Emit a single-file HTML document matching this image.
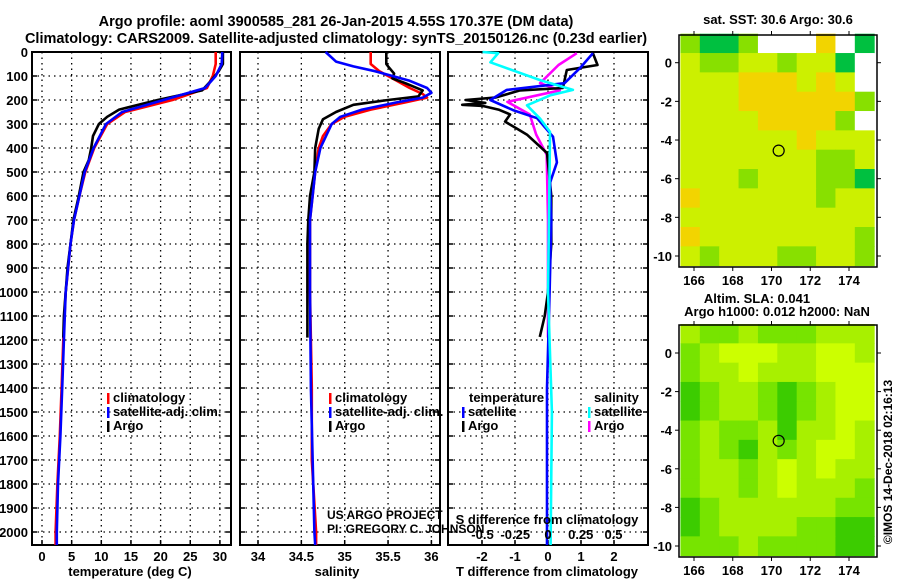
<!DOCTYPE html>
<html><head><meta charset="utf-8"><style>
html,body{margin:0;padding:0;background:#fff;}
svg{display:block;font-family:"Liberation Sans",sans-serif;}
.t{font-weight:bold;font-size:13px;fill:#000;}
.ttl{font-weight:bold;font-size:14.5px;fill:#000;}
</style></head><body>
<svg id="chart" width="900" height="580" viewBox="0 0 900 580" xmlns="http://www.w3.org/2000/svg">
<text class="ttl" x="336" y="26" text-anchor="middle">Argo profile: aoml 3900585_281 26-Jan-2015 4.55S 170.37E (DM data)</text>
<text class="ttl" x="336" y="43" text-anchor="middle">Climatology: CARS2009. Satellite-adjusted climatology: synTS_20150126.nc (0.23d earlier)</text>
<g id="plots"></g>
</svg>
<script>
// ---- data ----
const tClimP=[0,50,100,150,200,250,300,400,500,600,700,800,1000,1200,1400,1600,1800,2000,2054];
const tClim=[29.3,29.3,28.8,27.8,22,14,11,8.8,7.3,6.3,5.4,4.8,4.0,3.6,3.3,3.0,2.6,2.3,2.3];
const tSatP=[0,50,100,150,200,250,300,400,500,600,700,800,1000,1200,1400,1600,1800,2000,2054];
const tSat=[30.4,30.3,29.3,27.5,20.5,13.5,10.8,8.7,7.2,6.3,5.4,4.8,4.0,3.7,3.4,3.1,2.7,2.5,2.5];
const tArgoP=[0,50,80,120,160,200,240,270,300,350,400,450,500,600,700,800,900,1000,1100,1190];
const tArgo=[30.5,30.5,29.8,28.5,27,19.5,13,11,9.6,8.6,8.3,7.9,7.0,6.2,5.3,4.8,4.3,4.0,3.7,3.6];
const sClimP=[0,50,80,120,150,175,190,210,240,270,300,350,400,500,600,700,1000,1400,1700,2000,2054];
const sClim=[35.3,35.3,35.4,35.6,35.75,35.9,35.95,35.7,35.3,35.0,34.85,34.75,34.7,34.66,34.63,34.6,34.6,34.62,34.62,34.67,34.67];
const sSatP=[0,40,60,80,100,120,150,170,190,210,240,270,300,400,500,700,1000,1400,2000,2054];
const sSat=[34.78,34.9,35.1,35.35,35.55,35.75,35.95,36.0,35.9,35.6,35.2,34.95,34.85,34.72,34.66,34.6,34.6,34.61,34.65,34.66];
const sArgoP=[0,50,60,90,110,130,160,185,200,220,250,280,320,400,500,600,700,800,900,1190];
const sArgo=[35.48,35.48,35.5,35.57,35.55,35.7,35.9,35.85,35.5,35.1,34.9,34.75,34.7,34.66,34.65,34.6,34.58,34.57,34.57,34.57];
const dTSatP=[5,67,130,158,200,242,276,353,460,545,700,1000,1400,2054];
const dTSat=[1.36,0.97,0.5,-1.25,-1.75,-1.06,-0.33,0.15,0.27,0.06,0.1,0.05,-0.03,-0.03];
const dTArgoP=[5,54,75,150,160,190,200,212,220,225,240,260,290,344,421,600,800,1000,1100,1187];
const dTArgo=[1.36,1.5,0.57,0.45,-0.85,-1.6,-2.5,-1.9,-2.6,-1.97,-1.5,-1.15,-1.3,-0.64,-0.03,0.1,0.1,0.0,-0.1,-0.25];
const dSSatP=[0,5,43,117,158,180,222,278,333,600,1000,1500,2054];
const dSSat=[-0.5,-0.38,-0.44,-0.06,0.19,0.02,-0.16,-0.06,0.015,0.01,0.0,0.03,0.02];
const dSArgoP=[5,54,130,160,208,260,344,428,700,1000,1190];
const dSArgo=[0.22,0.08,-0.06,0.09,-0.31,-0.14,-0.09,-0.01,0.0,0.0,0.0];
const presTicks=[0,100,200,300,400,500,600,700,800,900,1000,1100,1200,1300,1400,1500,1600,1700,1800,1900,2000];
const tTicks=[0,5,10,15,20,25,30];
const sTicks=[34,34.5,35,35.5,36];
const sTickLabels=["34","34.5","35","35.5","36"];
const dTTicks=[-2,-1,0,1,2];
const dSTicks=[-0.5,-0.25,0,0.25,0.5];
const dSTickLabels=["-0.5","-0.25","0","0.25","0.5"];
const lonTicks=[166,168,170,172,174];
const latTicks=[0,-2,-4,-6,-8,-10];
// map grids (rows lat 1.5 -> -10.5 step 1, cols lon 165.5 -> 175.5 step 1)
const sstGrid=[
[2,3,3,2,4,4,4,1,4,3],
[0,2,2,0,0,2,0,0,3,4],
[0,0,0,1,1,1,0,1,0,4],
[0,0,0,1,1,1,1,1,1,2],
[0,0,0,0,1,1,1,1,2,4],
[0,0,0,0,0,0,1,0,0,0],
[0,0,0,0,0,0,0,2,2,0],
[0,0,0,2,0,0,0,2,2,3],
[1,0,0,0,0,0,0,2,0,0],
[0,0,0,0,0,0,0,0,0,0],
[1,0,0,0,0,0,0,0,0,2],
[0,2,0,0,0,2,2,0,0,2]];
const slaGrid=[
[1,2,2,1,2,2,2,1,1,1],
[2,1,0,0,0,1,1,0,0,1],
[2,1,1,0,1,1,1,0,0,0],
[3,2,1,1,2,3,2,1,0,0],
[3,2,1,1,2,3,2,1,0,0],
[2,1,2,2,1,3,1,1,0,1],
[2,1,2,3,1,2,1,0,0,1],
[2,1,1,2,1,0,1,0,1,1],
[2,1,1,2,1,0,1,1,1,2],
[3,2,1,1,1,1,1,1,2,2],
[3,2,1,1,1,1,2,2,3,3],
[2,2,2,1,2,2,2,2,3,3]];
const argoLon=170.37, argoLat=-4.55;

// ---- helpers ----
const NS="http://www.w3.org/2000/svg";
const root=document.getElementById('plots');
function mk(tag,attrs,parent){const e=document.createElementNS(NS,tag);for(const k in attrs)e.setAttribute(k,attrs[k]);(parent||root).appendChild(e);return e;}
const yP=p=>52+p*0.24;
const xT=v=>42+v*5.93;
const xS=v=>258+(v-34)*86.7;
const xDT=v=>548+v*33;
const xDS=v=>548+v*131;
const PY0=52,PY1=545;

function panel(name,x0,x1,xs,ticks,xf){
  const g=mk('g',{});
  
  
  presTicks.forEach(p=>{if(p>0){const l=mk('line',{x1:x0,x2:x1,y1:yP(p),y2:yP(p),stroke:'#000','stroke-width':1.3,'stroke-dasharray':'1.5,4'},g);
    }
    mk('line',{x1:x0,x2:x0+5,y1:yP(p),y2:yP(p),stroke:'#000','stroke-width':1.5},g);
    mk('line',{x1:x1-5,x2:x1,y1:yP(p),y2:yP(p),stroke:'#000','stroke-width':1.5},g);});
  ticks.forEach(v=>{const l=mk('line',{x1:xf(v),x2:xf(v),y1:PY0,y2:PY1,stroke:'#000','stroke-width':1.3,'stroke-dasharray':'1.5,4'},g);
    
    mk('line',{x1:xf(v),x2:xf(v),y1:PY1-5,y2:PY1,stroke:'#000','stroke-width':1.5},g);});
  const r=mk('rect',{x:x0,y:PY0,width:x1-x0,height:PY1-PY0,fill:'none',stroke:'#000','stroke-width':2},g);
  
  return g;
}
function line(g,name,ps,vs,xf,color){
  const d=ps.map((p,i)=>(i?'L':'M')+xf(vs[i]).toFixed(1)+','+yP(p).toFixed(1)).join('');
  const e=mk('path',{d:d,fill:'none',stroke:color,'stroke-width':2.6,'stroke-linejoin':'round'},g);
  
  
}
function txt(g,name,x,y,s,anchor,cls,extra){
  const e=mk('text',Object.assign({x:x,y:y,'text-anchor':anchor||'start',class:cls||'t'},extra||{}),g);
  e.textContent=s;
  
  
  return e;
}
function legend(g,x,y,items){
  items.forEach((it,i)=>{
    const b=mk('rect',{x:x,y:y+i*14-9,width:2.5,height:11,fill:it[1]},g);
    
    txt(g,'legend-entry',x+6,y+i*14,it[0]);
  });
}

// y tick labels
const yax=mk('g',{});


presTicks.forEach(p=>txt(yax,'y-tick-label',28,yP(p)+5,String(p),'end'));

// panel 1 temperature
const g1=panel('temperature-panel',32,231,null,tTicks,xT);
line(g1,'temp-climatology-line',tClimP,tClim,xT,'#ff0000');
line(g1,'temp-argo-line',tArgoP,tArgo,xT,'#000');
line(g1,'temp-satellite-line',tSatP,tSat,xT,'#0000ff');
tTicks.forEach(v=>txt(g1,'x-tick-label',xT(v),561,String(v),'middle'));
txt(g1,'x-axis-title',130,576,'temperature (deg C)','middle');
legend(g1,107,402,[['climatology','#ff0000'],['satellite-adj. clim.','#0000ff'],['Argo','#000']]);

// panel 2 salinity
const g2=panel('salinity-panel',240,440,null,sTicks,xS);
line(g2,'sal-climatology-line',sClimP,sClim,xS,'#ff0000');
line(g2,'sal-argo-line',sArgoP,sArgo,xS,'#000');
line(g2,'sal-satellite-line',sSatP,sSat,xS,'#0000ff');
sTicks.forEach((v,i)=>txt(g2,'x-tick-label',xS(v),561,sTickLabels[i],'middle'));
txt(g2,'x-axis-title',337,576,'salinity','middle');
legend(g2,329,402,[['climatology','#ff0000'],['satellite-adj. clim.','#0000ff'],['Argo','#000']]);
txt(g2,'credit-project',327,519,'US ARGO PROJECT','start','',{style:'font-size:12px;fill:#000'});
txt(g2,'credit-pi',327,533,'PI: GREGORY C. JOHNSON','start','',{style:'font-size:12px;fill:#000'});

// panel 3 differences
const g3=panel('difference-panel',448,648,null,dTTicks,xDT);
line(g3,'dS-argo-line',dSArgoP,dSArgo,xDS,'#ff00ff');
line(g3,'dT-argo-line',dTArgoP,dTArgo,xDT,'#000');
line(g3,'dT-satellite-line',dTSatP,dTSat,xDT,'#0000ff');
line(g3,'dS-satellite-line',dSSatP,dSSat,xDS,'#00ffff');
dTTicks.forEach(v=>txt(g3,'x-tick-label',xDT(v),561,String(v),'middle'));
dSTicks.forEach((v,i)=>txt(g3,'s-tick-label',xDS(v),539,dSTickLabels[i],'middle'));
txt(g3,'s-axis-title',547,524,'S difference from climatology','middle');
txt(g3,'x-axis-title',547,576,'T difference from climatology','middle');
txt(g3,'legend-title-temperature',469,402,'temperature');
legend(g3,462,416,[['satellite','#0000ff'],['Argo','#000']]);
txt(g3,'legend-title-salinity',594,402,'salinity');
legend(g3,588,416,[['satellite','#00ffff'],['Argo','#ff00ff']]);

// maps
const lonX=l=>694+(l-166)*19.375;
function map(name,grid,colors,latY,y0,y1,titles){
  const g=mk('g',{});
  
  
  grid.forEach((row,r)=>row.forEach((v,c)=>{
    const la=1.5-r, lo=165.5+c;
    const xa=Math.max(lonX(lo-0.2),679), xb=lonX(lo+0.8);
    const e=mk('rect',{x:xa,y:latY(la),width:Math.min(xb,877)-xa+0.5,height:latY(la-1)-latY(la)+0.5,fill:colors[v]},g);
    
    
  }));
  const fr=mk('rect',{x:679,y:y0,width:198,height:y1-y0,fill:'none',stroke:'#000','stroke-width':1.5},g);
  
  const c=mk('circle',{cx:lonX(argoLon),cy:latY(argoLat),r:5.5,fill:'none',stroke:'#000','stroke-width':1.2},g);
  
  lonTicks.forEach(l=>{txt(g,'lon-tick-label',lonX(l),y1+18,String(l),'middle');
    mk('line',{x1:lonX(l),x2:lonX(l),y1:y1,y2:y1+4,stroke:'#000'},g);mk('line',{x1:lonX(l),x2:lonX(l),y1:y0-4,y2:y0,stroke:'#000'},g);});
  latTicks.forEach(l=>{txt(g,'lat-tick-label',672,latY(l)+5,String(l),'end');
    mk('line',{x1:675,x2:679,y1:latY(l),y2:latY(l),stroke:'#000'},g);mk('line',{x1:877,x2:881,y1:latY(l),y2:latY(l),stroke:'#000'},g);});
  titles.forEach(t=>txt(g,'map-title',t[1],t[2],t[0],'middle'));
}
map('sst-map',sstGrid,['#ccf000','#f2d400','#88e000','#00c040','#ffffff'],l=>62.7-l*19.33,35,267,[['sat. SST: 30.6 Argo: 30.6',778,24]]);
map('sla-map',slaGrid,['#ccff00','#a8f000','#77e400','#3ccc00'],l=>353-l*19.3,325,557,[['Altim. SLA: 0.041',757,303],['Argo h1000: 0.012 h2000: NaN',777,316]]);
const cr=txt(root,'timestamp-credit',0,0,'©IMOS 14-Dec-2018 02:16:13','middle','',{style:'font-size:12px;fill:#000',transform:'translate(892,462) rotate(-90)'});
</script>
</body></html>
